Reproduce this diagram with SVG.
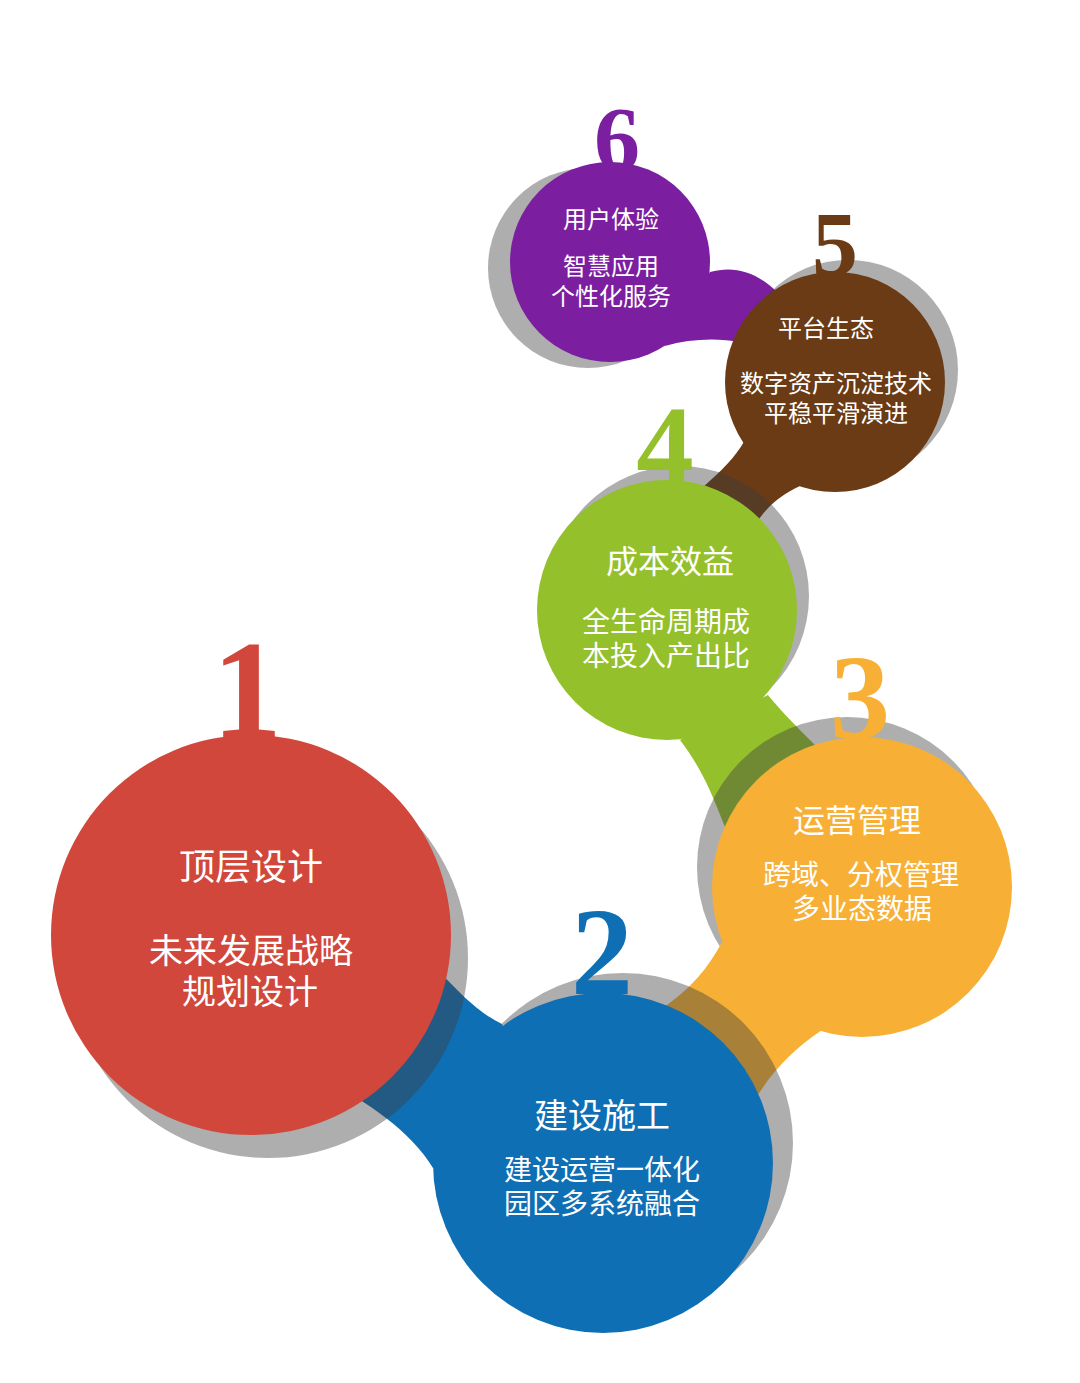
<svg xmlns="http://www.w3.org/2000/svg" width="1080" height="1383" viewBox="0 0 1080 1383">
<style>
.sh{fill:#3e3e3e;fill-opacity:0.42}
.num{font-family:"Liberation Serif",serif;font-weight:bold;text-anchor:middle}
.t{font-family:"Noto Sans CJK SC",sans-serif;fill:#ffffff;text-anchor:middle}
.purple{fill:#7b1fa0}.brown{fill:#6a3b14}.green{fill:#94c02b}.orange{fill:#f7b035}.blue{fill:#0f6fb5}.red{fill:#d2473c}
</style>
<rect width="1080" height="1383" fill="#ffffff"/>
<g id="node6">
<circle class="sh" cx="588" cy="268" r="100"/>
<path class="purple" d="M710,272 C735,265 758,272 780,295 L765,350 C740,338 700,336 665,346 Z"/>
<circle class="purple" cx="610" cy="262" r="100"/>
<text class="num purple" x="617" y="170" font-size="92">6</text>
<text class="t" x="611" y="228" font-size="24">用户体验</text>
<text class="t" x="611" y="275" font-size="24">智慧应用</text>
<text class="t" x="611" y="305" font-size="24">个性化服务</text>
</g>
<g id="node5">
<circle class="sh" cx="848" cy="370" r="110"/>
<path class="brown" d="M745,440 C735,458 722,470 700,490 L745,545 C755,520 770,500 800,486 L810,440 Z"/>
<circle class="brown" cx="835" cy="382" r="110"/>
<text class="num brown" x="835" y="275" font-size="92">5</text>
<text class="t" x="826" y="337" font-size="24">平台生态</text>
<text class="t" x="836" y="392" font-size="24">数字资产沉淀技术</text>
<text class="t" x="836" y="422" font-size="24">平稳平滑演进</text>
</g>
<g id="node4">
<circle class="sh" cx="679" cy="596" r="130"/>
<path class="green" d="M768,695 C782,712 795,725 818,748 L745,865 C718,825 718,790 680,740 Z"/>
<circle class="green" cx="667" cy="610" r="130"/>
<text class="num green" x="665" y="485" font-size="115">4</text>
<text class="t" x="670" y="573" font-size="32">成本效益</text>
<text class="t" x="666" y="632" font-size="28">全生命周期成</text>
<text class="t" x="666" y="666" font-size="28">本投入产出比</text>
</g>
<g id="node3">
<circle class="sh" cx="847" cy="867" r="150"/>
<path class="orange" d="M722,942 C708,968 692,988 660,1010 L745,1120 C760,1085 785,1055 822,1030 L800,950 Z"/>
<circle class="orange" cx="862" cy="887" r="150"/>
<text class="num orange" x="860" y="738" font-size="120">3</text>
<text class="t" x="857" y="832" font-size="32">运营管理</text>
<text class="t" x="861" y="885" font-size="28">跨域、分权管理</text>
<text class="t" x="862" y="919" font-size="28">多业态数据</text>
</g>
<g id="node2">
<circle class="sh" cx="623" cy="1143" r="170"/>
<path class="blue" d="M502,1024 C478,1012 460,995 420,950 L320,1075 C370,1105 410,1130 433,1168 L540,1120 Z"/>
<circle class="blue" cx="603" cy="1163" r="170"/>
<text class="num blue" x="602" y="994" font-size="124">2</text>
<text class="t" x="602" y="1128" font-size="34">建设施工</text>
<text class="t" x="602" y="1180" font-size="28">建设运营一体化</text>
<text class="t" x="602" y="1214" font-size="28">园区多系统融合</text>
</g>
<g id="node1">
<circle class="sh" cx="268" cy="958" r="200"/>
<circle class="red" cx="251" cy="935" r="200"/>
<text class="num red" x="247" y="737" font-size="140">1</text>
<text class="t" x="251" y="880" font-size="36">顶层设计</text>
<text class="t" x="251" y="963" font-size="34">未来发展战略</text>
<text class="t" x="250" y="1004" font-size="34">规划设计</text>
</g>
</svg>
